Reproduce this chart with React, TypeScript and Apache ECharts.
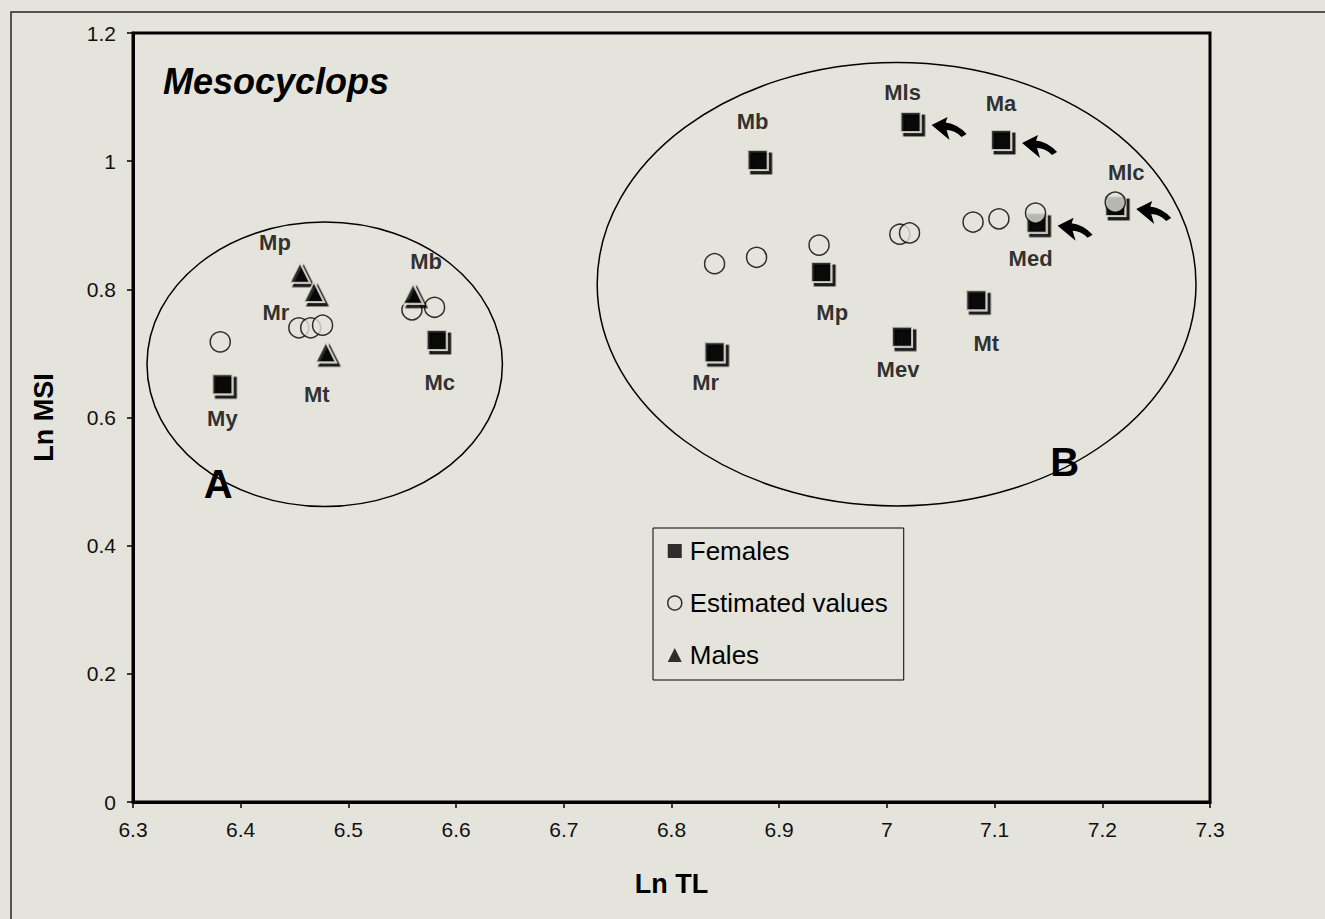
import React, { useEffect, useRef } from 'react';
import * as echarts from 'echarts';

const BG = '#e4e4dc';
const FONT = '"Liberation Sans", Arial, Helvetica, sans-serif';

// Females (filled squares)
const femaleNames = ['My', 'Mc', 'Mb', 'Mls', 'Ma', 'Mp', 'Mev', 'Mr', 'Mt', 'Med', 'Mlc'];
const femaleLnTL = [6.383, 6.582, 6.880, 7.022, 7.106, 6.939, 7.014, 6.840, 7.083, 7.139, 7.212];
const femaleLnMSI = [0.652, 0.721, 1.002, 1.061, 1.033, 0.827, 0.726, 0.702, 0.783, 0.904, 0.930];

// Males (triangles)
const maleNames = ['Mp', 'Mr', 'Mt', 'Mb'];
const maleLnTL = [6.455, 6.468, 6.479, 6.560];
const maleLnMSI = [0.826, 0.796, 0.702, 0.793];

// Estimated values (open circles)
const estLnTL = [6.381, 6.454, 6.465, 6.476, 6.559, 6.580, 6.840, 6.879, 6.937, 7.012, 7.021, 7.080, 7.104, 7.138, 7.212];
const estLnMSI = [0.718, 0.740, 0.740, 0.744, 0.768, 0.772, 0.840, 0.850, 0.869, 0.886, 0.888, 0.905, 0.910, 0.919, 0.936];

// Females marked with an arrow
const arrowed = ['Mls', 'Ma', 'Med', 'Mlc'];

// Groups (ellipses) in data units
const groupNames = ['A', 'B'];
const groupCenterTL = [6.478, 7.009];
const groupCenterMSI = [0.683, 0.808];
const groupRadiusTL = [0.165, 0.278];
const groupRadiusMSI = [0.222, 0.346];
const groupLabelTL = [6.379, 7.165];
const groupLabelMSI = [0.496, 0.531];

// label offsets (style)
const femaleLabelOffset = [[0, 34], [3, 43], [-5, -38], [-8, -30], [0, -37], [11, 40], [-4, 33], [-9, 30], [10, 43], [-6, 36], [11, -34]];
const maleLabelOffset = [[-25, -30], [-38, 21], [-9, 42], [13, -32]];

const ARROW = 'M0,0 L16,-8 L14,-2.5 Q26,-1 35,9 L30,12 Q23,5 15,5 L18,15 Z';

const fmt = (v: number) => String(Math.round(v * 10) / 10);

export default function App() {
  const ref = useRef<HTMLDivElement>(null);
  useEffect(() => {
    const chart = echarts.init(ref.current!, null, { renderer: 'svg' });
    const shadowStyle = {
      color: '#000',
      borderColor: BG,
      borderWidth: 2,
      shadowColor: '#000',
      shadowBlur: 0,
      shadowOffsetX: 3.5,
      shadowOffsetY: 3.5,
    };
    const labelBase = {
      show: true,
      position: 'inside',
      color: '#000',
      textBorderWidth: 0,
      fontFamily: FONT,
      fontWeight: 'bold',
      fontSize: 22,
      formatter: '{b}',
    };
    const option: any = {
      animation: false,
      backgroundColor: BG,
      textStyle: { fontFamily: FONT },
      title: {
        text: 'Mesocyclops',
        left: 163,
        top: 63,
        padding: 0,
        textStyle: { fontFamily: FONT, fontSize: 36, fontWeight: 'bold', fontStyle: 'italic', color: '#000' },
      },
      graphic: [
        {
          type: 'rect',
          silent: true,
          z: -10,
          shape: { x: 11, y: 12, width: 1340, height: 940 },
          style: { fill: 'none', stroke: '#222', lineWidth: 1.5 },
        },
      ],
      grid: {
        left: 133,
        right: 115,
        top: 33,
        bottom: 117,
        show: true,
        borderColor: '#000',
        borderWidth: 3,
        backgroundColor: 'transparent',
      },
      legend: {
        left: 653,
        top: 528,
        orient: 'vertical',
        backgroundColor: BG,
        borderColor: '#000',
        borderWidth: 1,
        borderRadius: 0,
        padding: [8, 16, 10, 14],
        itemGap: 22,
        itemWidth: 14,
        itemHeight: 14,
        itemStyle: { shadowColor: 'transparent', shadowOffsetX: 0, shadowOffsetY: 0, borderWidth: 0 },
        textStyle: { fontFamily: FONT, fontSize: 26, color: '#000', lineHeight: 30, padding: [0, 0, 0, 3] },
        data: [
          { name: 'Females', icon: 'rect', itemStyle: { color: '#000', borderWidth: 0 } },
          { name: 'Estimated values', icon: 'circle', itemStyle: { color: BG, borderColor: '#000', borderWidth: 1.5 } },
          { name: 'Males', icon: 'triangle', itemStyle: { color: '#000', borderWidth: 0 } },
        ],
      },
      xAxis: {
        type: 'value',
        min: 6.3,
        max: 7.3,
        interval: 0.1,
        name: 'Ln TL',
        nameLocation: 'middle',
        nameGap: 68,
        nameTextStyle: { fontFamily: FONT, fontSize: 27, fontWeight: 'bold', color: '#000' },
        axisLine: { lineStyle: { color: '#000', width: 3 } },
        axisTick: { show: true, inside: false, length: 6, lineStyle: { color: '#000', width: 1.5 } },
        axisLabel: { fontFamily: FONT, fontSize: 21, color: '#111', margin: 17, formatter: fmt },
        splitLine: { show: false },
      },
      yAxis: {
        type: 'value',
        min: 0,
        max: 1.2,
        interval: 0.2,
        name: 'Ln MSI',
        nameLocation: 'middle',
        nameGap: 76,
        nameTextStyle: { fontFamily: FONT, fontSize: 27, fontWeight: 'bold', color: '#000' },
        axisLine: { lineStyle: { color: '#000', width: 3 } },
        axisTick: { show: true, inside: false, length: 6, lineStyle: { color: '#000', width: 1.5 } },
        axisLabel: { fontFamily: FONT, fontSize: 21, color: '#111', margin: 17, formatter: fmt },
        splitLine: { show: false },
      },
      series: [
        {
          type: 'custom',
          name: 'groups',
          silent: true,
          clip: false,
          z: 1,
          data: groupNames.map((n, i) => [groupCenterTL[i], groupCenterMSI[i], groupRadiusTL[i], groupRadiusMSI[i], groupLabelTL[i], groupLabelMSI[i]]),
          encode: { x: 0, y: 1 },
          renderItem: (params: any, api: any) => {
            const c = api.coord([api.value(0), api.value(1)]);
            const s = api.size([api.value(2), api.value(3)]);
            const lp = api.coord([api.value(4), api.value(5)]);
            const name = groupNames[params.dataIndex];
            return {
              type: 'group',
              children: [
                {
                  type: 'ellipse',
                  shape: { cx: c[0], cy: c[1], rx: s[0], ry: s[1] },
                  style: { fill: 'none', stroke: '#000', lineWidth: 1.5 },
                },
                {
                  type: 'text',
                  x: lp[0],
                  y: lp[1],
                  style: {
                    text: name,
                    fill: '#000',
                    font: `bold 40px ${FONT}`,
                    align: 'center',
                    verticalAlign: 'middle',
                  },
                },
              ],
            };
          },
        },
        {
          type: 'scatter',
          name: 'Females',
          symbol: 'rect',
          symbolSize: 20,
          symbolKeepAspect: true,
          z: 3,
          itemStyle: shadowStyle,
          data: femaleNames.map((n, i) => ({
            name: n,
            value: [femaleLnTL[i], femaleLnMSI[i]],
            label: { ...labelBase, offset: femaleLabelOffset[i] },
          })),
        },
        {
          type: 'scatter',
          name: 'Estimated values',
          symbol: 'circle',
          symbolSize: 20,
          symbolKeepAspect: true,
          z: 4,
          itemStyle: { color: BG, borderColor: '#000', borderWidth: 1.5 },
          data: estLnTL.map((x, i) => [x, estLnMSI[i]]),
        },
        {
          type: 'scatter',
          name: 'Males',
          symbol: 'triangle',
          symbolSize: 20,
          symbolKeepAspect: true,
          z: 5,
          itemStyle: shadowStyle,
          data: maleNames.map((n, i) => ({
            name: n,
            value: [maleLnTL[i], maleLnMSI[i]],
            label: { ...labelBase, offset: maleLabelOffset[i] },
          })),
        },
        {
          type: 'custom',
          name: 'arrows',
          silent: true,
          clip: false,
          z: 6,
          data: arrowed.map((n) => {
            const i = femaleNames.indexOf(n);
            return [femaleLnTL[i], femaleLnMSI[i]];
          }),
          encode: { x: 0, y: 1 },
          renderItem: (params: any, api: any) => {
            const c = api.coord([api.value(0), api.value(1)]);
            return {
              type: 'path',
              x: c[0] + 21,
              y: c[1] + 3,
              shape: { pathData: ARROW },
              style: { fill: '#000' },
            };
          },
        },
      ],
    };
    chart.setOption(option);
    return () => chart.dispose();
  }, []);
  return (
    <div style={{ position: 'fixed', left: 0, top: 0, width: 1325, height: 919, background: BG }}>
      <div ref={ref} style={{ width: 1325, height: 919 }} />
    </div>
  );
}
